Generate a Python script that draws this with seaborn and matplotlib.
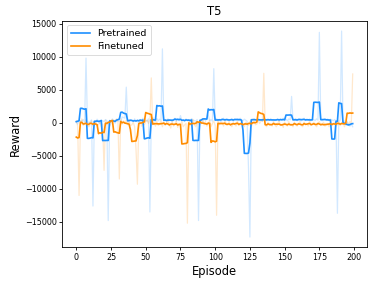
import numpy as np
import pandas as pd
import matplotlib
matplotlib.use("Agg")
import matplotlib.pyplot as plt
import seaborn as sns

# ---------------- data ----------------
episodes = list(range(200))

pretrained_raw = [
    150, -200, 400, 300, 250, 500, 100, 9800, 350, -150,
    200, 450, -12600, 300, 100, 550, 250, -100, 400, 300,
    200, 500, 350, -14800, 400, 150, 600, 300, -50, 450,
    250, 350, 100, 900, 800, 700, 5400, 300, 150, 500,
    350, 200, 600, 250, 400, -100, 500, 300, 700, 150,
    400, 250, 600, -13500, 350, 800, 450, 200, 650, 300,
    550, 400, 11200, 300, 450, 200, 600, 350, 500, 150,
    400, 700, 250, 500, 300, 1100, 350, 450, 200, 600,
    300, 500, 150, 650, 400, 350, 250, 500, -14800, 300,
    450, 200, 550, 350, 600, 1200, 300, 500, 250, 8200,
    400, 650, 300, 550, 200, 450, 700, 350, 500, 600,
    300, 450, 650, 250, 500, 400, 600, 350, 700, 450,
    300, 550, 400, 250, -7000, -17300, 500, 350, 600, 450,
    400, 600, 350, 500, 250, 700, 450, 300, 550, 400,
    650, 300, 500, 350, 450, 600, 250, 500, 400, 700,
    350, 550, 300, 600, 450, 4000, 500, 350, 650, 300,
    450, 600, 300, 500, 700, 350, 550, 400, 600, 300,
    500, 450, 350, 600, 400, 13700, 550, 300, 500, 650,
    400, 600, 300, 550, 450, 300, 500, 250, -13700, 350,
    400, 13900, 200, 300, -100, 250, -300, -500, -200, -600,
]

finetuned_raw = [
    300, -500, -11000, -200, 600, -400, -100, 500, -300, -600,
    -200, 300, -500, -100, 200, -400, -300, 100, -600, -200,
    -7200, 400, -300, 200, -500, -100, 300, 400, 300, 600,
    200, -8500, 600, -200, 300, -100, 400, -300, 200, -400,
    -300, 100, -600, -4000, -9300, -200, 300, -500, 100, -300,
    200, 400, -100, 500, 6800, -300, 100, -500, 200, -400,
    -200, 300, -600, 100, -400, -100, 500, -300, -800, 200,
    -500, -200, 300, -700, -100, -400, 200, -600, -300, -100,
    -15200, 300, -400, -200, 500, -300, -600, 100, -200, 400,
    -100, 600, -300, 200, -500, -200, 400, -600, -100, 300,
    -400, -14000, 500, -300, -200, 100, -500, 300, -100, -400,
    200, -300, -600, 100, -200, -500, 300, -400, -100, 200,
    -300, -600, 100, -200, -400, 200, -500, -100, 300, -300,
    -200, 400, -100, 300, 200, 7500, -300, -600, 100, -400,
    -200, -500, 200, -300, -600, -100, 300, -400, -200, -700,
    100, -300, -500, 200, -400, -200, -600, 100, -300, -500,
    -100, 200, -400, -600, 100, -300, -200, -500, 300, -400,
    -200, 100, -300, -600, -100, 200, -400, -300, 100, -500,
    -300, -100, -600, 200, -400, -200, 100, -500, -300, 200,
    -400, -100, 300, -600, -200, 100, -300, 200, -100, 7400,
]

models = ["Pretrained", "Finetuned"]
colors = ["#1E90FF", "#FF8C00"]
window = 5


def smooth(values, w):
    # forward moving average (sum of the next w values divided by w)
    return np.convolve(values, np.ones(w) / w, mode="full")[w - 1:]


raw_df = pd.concat([
    pd.DataFrame({"Episode": episodes, "Reward": pretrained_raw, "Model": models[0]}),
    pd.DataFrame({"Episode": episodes, "Reward": finetuned_raw, "Model": models[1]}),
], ignore_index=True)

smooth_df = pd.concat([
    pd.DataFrame({"Episode": episodes, "Reward": smooth(pretrained_raw, window), "Model": models[0]}),
    pd.DataFrame({"Episode": episodes, "Reward": smooth(finetuned_raw, window), "Model": models[1]}),
], ignore_index=True)

# ---------------- plot ----------------
fig = plt.figure(figsize=(3.74, 2.84), dpi=100)
ax = fig.add_axes([0.167, 0.129, 0.813, 0.798])
palette = dict(zip(models, colors))

sns.lineplot(data=raw_df, x="Episode", y="Reward", hue="Model", palette=palette,
             alpha=0.2, linewidth=0.9, legend=False, ax=ax, estimator=None)
sns.lineplot(data=smooth_df, x="Episode", y="Reward", hue="Model", palette=palette,
             linewidth=1.2, ax=ax, estimator=None)

ax.set_title("T5", fontsize=8.3, pad=4)
ax.set_xlabel("Episode", fontsize=8.3, labelpad=2)
ax.set_ylabel("Reward", fontsize=8.3, labelpad=2)
ax.set_xticks([0, 25, 50, 75, 100, 125, 150, 175, 200])
ax.set_yticks([-15000, -10000, -5000, 0, 5000, 10000, 15000])
ax.tick_params(labelsize=5.8, length=2.2, width=0.6, pad=2)
for s in ax.spines.values():
    s.set_linewidth(0.6)

leg = ax.legend(loc="upper left", fontsize=6.8, frameon=True, title=None,
                handlelength=2.0, borderpad=0.4, labelspacing=0.4)
leg.get_frame().set_linewidth(0.6)

fig.savefig("out.png", dpi=100)
